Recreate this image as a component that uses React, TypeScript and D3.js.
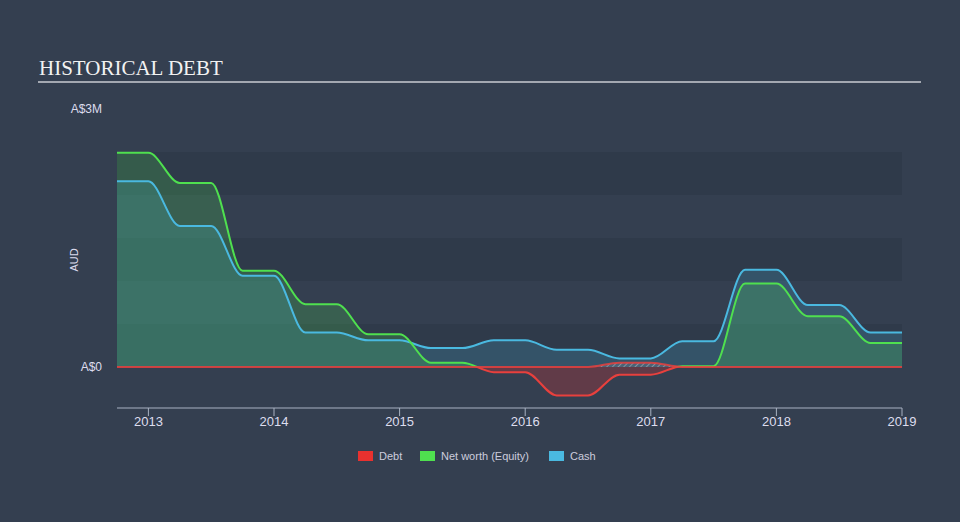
import React from 'react';
import * as d3 from 'd3';

const dates = [2012.75, 2013.0, 2013.25, 2013.5, 2013.75, 2014.0, 2014.25, 2014.5, 2014.75, 2015.0, 2015.25, 2015.5, 2015.75, 2016.0, 2016.25, 2016.5, 2016.75, 2017.0, 2017.25, 2017.5, 2017.75, 2018.0, 2018.25, 2018.5, 2018.75, 2019.0];
const netWorth = [2490000, 2490000, 2140000, 2140000, 1120000, 1120000, 730000, 730000, 380000, 380000, 50000, 50000, -60000, -60000, -330000, -330000, -90000, -90000, 10000, 10000, 970000, 970000, 590000, 590000, 280000, 280000];
const cash = [2160000, 2160000, 1640000, 1640000, 1060000, 1060000, 400000, 400000, 310000, 310000, 220000, 220000, 310000, 310000, 200000, 200000, 100000, 100000, 300000, 300000, 1130000, 1130000, 720000, 720000, 400000, 400000];
const debt = [0, 0, 0, 0, 0, 0, 0, 0, 0, 0, 0, 0, 0, 0, 0, 0, 50000, 50000, 0, 0, 0, 0, 0, 0, 0, 0];
const yearTicks = [2013, 2014, 2015, 2016, 2017, 2018, 2019];
const yTickValues = [0, 3000000];
const yTickLabels = ['A$0', 'A$3M'];
const bandRanges = [[0, 500000], [1000000, 1500000], [2000000, 2500000]];
const legendItems = ['Debt', 'Net worth (Equity)', 'Cash'];
const legendColors = ['#e8312f', '#4fe04f', '#4ab9e0'];

const W = 960;
const H = 522;
const BG = '#343f50';
const SANS = '"Liberation Sans", Arial, sans-serif';

export default function App() {
  const x = d3.scaleLinear().domain([2012.75, 2019]).range([117, 902]);
  const y = d3.scaleLinear().domain([0, 3000000]).range([367, 109]);
  const y0 = y(0);
  const idx = dates.map((_, i) => i);

  const areaOf = (vals: number[]) =>
    d3.area<number>().x((i) => x(dates[i])).y0(y0).y1((i) => y(vals[i])).curve(d3.curveMonotoneX)(idx) || '';
  const lineOf = (vals: number[]) =>
    d3.line<number>().x((i) => x(dates[i])).y((i) => y(vals[i])).curve(d3.curveMonotoneX)(idx) || '';

  const left = x.range()[0];
  const right = x.range()[1];
  const bottom = 408;

  const legendX = [358, 420, 549];

  return (
    <svg width={W} height={H} style={{ position: 'absolute', left: 0, top: 0, display: 'block' }}>
      <defs>
        <clipPath id="above">
          <rect x={left} y={0} width={right - left} height={y0} />
        </clipPath>
        <clipPath id="below">
          <rect x={left} y={y0} width={right - left} height={H - y0} />
        </clipPath>
        <pattern id="hatch" width={4} height={4} patternUnits="userSpaceOnUse" patternTransform="rotate(45)">
          <rect width={4} height={4} fill="rgba(200,190,200,0.15)" />
          <line x1={0} y1={0} x2={0} y2={4} stroke="rgba(210,200,210,0.55)" strokeWidth={1.6} />
        </pattern>
      </defs>
      <rect x={0} y={0} width={W} height={H} fill={BG} />
      {bandRanges.map(([a, b], i) => (
        <rect key={i} x={left} y={y(b)} width={right - left} height={y(a) - y(b)} fill="rgba(20,30,45,0.14)" />
      ))}

      <text x={39} y={75} fill="#f2f2f2" fontFamily='"Liberation Serif", "Times New Roman", serif' fontSize={21}>HISTORICAL DEBT</text>
      <line x1={38} x2={921} y1={82} y2={82} stroke="#c8ccd2" strokeWidth={1.5} />

      {yTickValues.map((v, i) => (
        <text key={i} x={102} y={y(v) + 4} textAnchor="end" fill="#dde" fontFamily={SANS} fontSize={12}>{yTickLabels[i]}</text>
      ))}
      <text transform={`translate(78,${260}) rotate(-90)`} textAnchor="middle" fill="#dde" fontFamily={SANS} fontSize={11}>AUD</text>

      <path d={areaOf(cash)} fill="rgba(74,185,224,0.2)" />
      <path d={areaOf(netWorth)} fill="rgba(79,224,79,0.2)" clipPath="url(#above)" />
      <path d={areaOf(netWorth)} fill="rgba(232,49,47,0.25)" clipPath="url(#below)" />
      <path d={areaOf(debt)} fill="url(#hatch)" />

      <path d={lineOf(cash)} fill="none" stroke="#4ab9e0" strokeWidth={2} />
      <path d={lineOf(netWorth)} fill="none" stroke="#4fe04f" strokeWidth={2} clipPath="url(#above)" />
      <path d={lineOf(netWorth)} fill="none" stroke="#e8403d" strokeWidth={2} clipPath="url(#below)" />
      <path d={lineOf(debt)} fill="none" stroke="#e8403d" strokeWidth={2} opacity={0.85} />

      <line x1={left} x2={right} y1={bottom} y2={bottom} stroke="#a8b2c2" strokeWidth={1} />
      {yearTicks.map((t) => (
        <g key={t}>
          <line x1={x(t)} x2={x(t)} y1={bottom} y2={bottom + 8} stroke="#a8b2c2" strokeWidth={1} />
          <text x={x(t)} y={bottom + 18} textAnchor="middle" fill="#dde" fontFamily={SANS} fontSize={13}>{t}</text>
        </g>
      ))}

      {legendItems.map((name, i) => (
        <g key={name}>
          <rect x={legendX[i]} y={451} width={15} height={10} fill={legendColors[i]} />
          <text x={legendX[i] + 21} y={460} fill="#ccd" fontFamily={SANS} fontSize={11}>{name}</text>
        </g>
      ))}
    </svg>
  );
}
